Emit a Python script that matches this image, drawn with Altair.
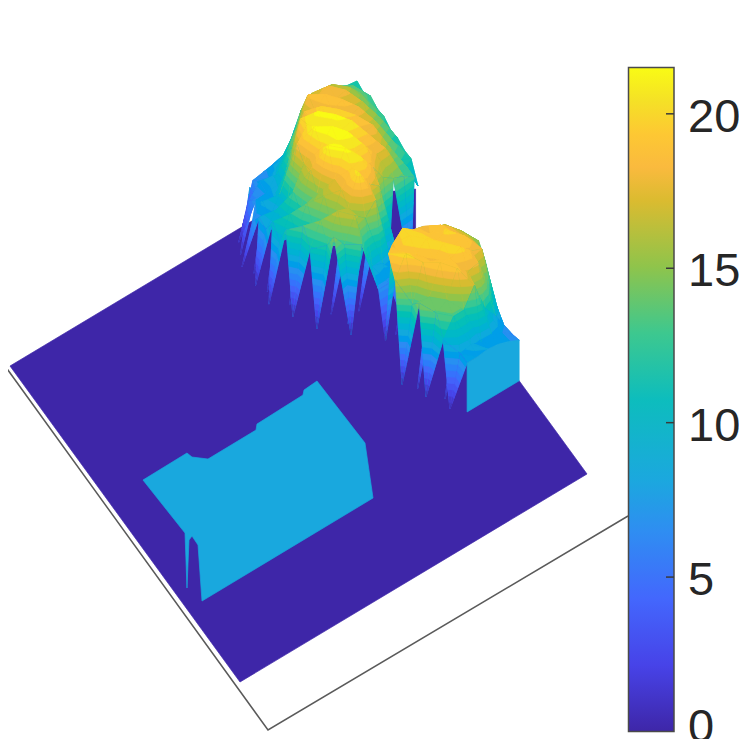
import altair as alt

N = None
# surface heights: rows run along the u edge, columns along the v edge
U_STEP = 0.705 / 24
V_START = 0.61
V_STEP = 0.03
HEIGHTS = [
    [N, N, 0, 5.7, 6, 6.3, 6, 8.7, 12.2, 13, 12.3, 12, 11.2, 11],
    [N, 0, 5, 6.8, 6.5, 8, 9, 13.5, 15, 14, 14.5, 12.8, 12.5, 10.6],
    [N, N, 6.4, 6.5, 8.3, 10.5, 13.5, 17, 16, 16.5, 15, 14.5, 12.8, 11.5],
    [0, 5.5, 7.5, 7, 8.8, 13, 16.8, 16, 17.5, 16, 16.3, 13.5, 13, 11],
    [N, 7.5, 6.5, 9, 12.5, 18, 17, 18, 16.3, 17.2, 15, 15, 12.2, 11.2],
    [0, 7, 9, 8.5, 16.5, 18.5, 19.5, 17.3, 18, 16.2, 16.5, 13.6, 13.2, 10.6],
    [N, 9.5, 8, 12, 15, 19.5, 18.5, 19.5, 17.3, 17.6, 15, 14.8, 11.5, 10.8],
    [0, 8, 11, 10.5, 15.5, 17.8, 20, 18.7, 19, 16.2, 16.6, 13.2, 12.4, 10.4],
    [N, 11, 9.5, 13, 13.5, 19.5, 19, 19.6, 17.2, 17.4, 15.2, 13.8, 11.2, 10.5],
    [N, 0, 12, 10.5, 14.5, 16, 19.5, 18, 18, 16, 15.8, 11.5, 11.4, 8],
    [N, N, 10, 13.2, 12, 15.8, 18, 18.6, 16.4, 14, 13, 12.4, 11.4, N],
    [N, N, 0, 11, 15, 14.5, 18.8, 16.2, 15, 6, N, 0, N, N],
    [N, N, N, 13.5, 11.5, 14.8, 13.5, 15.2, 7, 6.2, N, N, N, N],
    [N, N, N, N, 0, 12, 8, 7.5, 5.6, 6.3, N, N, N, N],
    [N, N, N, N, N, N, 6, 6, 6.5, 5.4, N, N, N, N],
    [N, N, N, N, N, N, 0, N, 0, N, N, N, N, N],
    [N, N, N, N, N, N, 15, 16.5, 15.4, 15, 13.8, 13.5, 12, 10],
    [N, N, N, N, N, 16, 15.4, 16.8, 16.2, 15.2, 15.6, 14.4, 13, 11.2],
    [N, N, N, N, N, 13.5, 16.4, 15.4, 16.8, 15.6, 16.2, 14.8, 13.6, 12],
    [N, N, N, N, N, 0, 10.5, 15.6, 15, 16.6, 15.4, 15.8, 14, 10.4],
    [N, N, N, N, N, N, 12, 12, 16, 15.6, 16.4, 15, 14.4, 7.7],
    [N, N, N, N, N, N, 0, 11, 12, 15.6, 14.2, 14.6, 10.6, 5.5],
    [N, N, N, N, N, N, N, 8.5, 11, 11, 13.6, 9.5, 7.5, 4.6],
    [N, N, N, N, N, N, N, 0, 7, 7.4, 6.8, 7, 6.4, 5.3],
    [N, N, N, N, N, N, N, N, 7, 7, 7.2, 7, 6.5, 5.8],
]
# extra hanging spikes between the main ones: tip u, tip v, height of their top
FRINGE_U = [.059, .118, .176, .235, .294, .353, .44, .588, .647, .34, .31, .33]
FRINGE_V = [.625, .625, .625, .65, .69, .74, .82, .785, .825, .78, .72, .90]
FRINGE_Z = [8, 8, 9, 9, 10, 10, 6, 10, 9, 9, 9, 11]
COLOR_GAIN = 1.1
COLOR_GAIN_FRONT_HILL = 1.22
FLOOR = [(0, 0, 0), (1, 0, 0), (1, 1, 0), (0, 1, 0)]
BACKING = [(.30, .87, 0), (.30, .97, 0), (.30, .97, 10), (.30, .87, 12.5)]
BLOCK_VALUE = 8.2
BLOCK = [
    (.5524, .0171, 8.14), (.7247, .024, 8.14), (.7229, .0309, 0), (.7454, .0218, 8.14),
    (.7405, .0337, 8.14), (.7683, .0326, 8.14), (.7714, .042, 0), (.7703, .5356, 0),
    (.7641, .5166, 8.14), (.5641, .5108, 8.14), (.5668, .4716, 8.14), (.5764, .4623, 8.14),
    (.5796, .3276, 8.14), (.5915, .3169, 8.14), (.592, .1782, 8.14), (.5665, .149, 8.14),
    (.551, .1448, 8.14),
]
WALL = [(.705, .85, 0), (.705, 1, 0), (.705, 1, 5.8), (.705, .97, 6.5), (.705, .94, 7),
        (.705, .91, 7.2), (.705, .88, 7), (.705, .85, 7)]
AXIS_EDGES = [(-.0066, -.01, 0), (1.1427, -.0139, 0), (1.1467, 1.021, 0)]
COLOR_POS = [0, .1, .2, .3, .38, .5, .6, .7, .8, .85, .9, .95, 1]
COLOR_HEX = ["#3E26A8", "#4743E8", "#4367FD", "#2F8DF2", "#1BA8DE", "#0DBDBD", "#3DC88F",
             "#8FC44B", "#DBBB30", "#FABA3E", "#FDC833", "#F5E126", "#F9FB15"]
ZMAX = 21.5
TICKS = [5, 10, 15, 20]
BAND = 0.8


def project(p):
    u, v, z = p
    return [10 + 230 * u + 347 * v - 8, -(366 + 316 * u - 208 * v - 7 * z - 8)]


def clip(poly, level, keep_above):
    out = []
    for a, b in zip(poly, poly[1:] + poly[:1]):
        ina = a[2] >= level if keep_above else a[2] <= level
        inb = b[2] >= level if keep_above else b[2] <= level
        if ina:
            out.append(a)
        if ina != inb:
            t = (level - a[2]) / (b[2] - a[2])
            out.append((a[0] + t * (b[0] - a[0]), a[1] + t * (b[1] - a[1]), level))
    return out


def feature(points, value):
    ring = [project(p) for p in points]
    ring.append(ring[0])
    return {"type": "Feature", "properties": {"c": value},
            "geometry": {"type": "Polygon", "coordinates": [ring]}}


def vertex(i, j):
    z = HEIGHTS[i][j]
    if z is None:
        return None
    return (i * U_STEP, V_START + j * V_STEP, z)


def bands(tri):
    lo = min(p[2] for p in tri)
    hi = max(p[2] for p in tri)
    gain = COLOR_GAIN_FRONT_HILL if .46 <= min(p[0] for p in tri) < .64 else COLOR_GAIN
    out = [feature(tri, min((lo + hi) / 2 * gain, ZMAX))]
    if hi - lo < 1e-6:
        return out
    level = int(lo / BAND) * BAND
    while level < hi:
        piece = clip(clip(list(tri), level, True), level + BAND, False)
        if len(piece) >= 3:
            out.append(feature(piece, min((level + BAND / 2) * gain, ZMAX)))
        level += BAND
    return out


triangles = []
for i in range(len(HEIGHTS) - 1):
    for j in range(len(HEIGHTS[0]) - 1):
        a, b, c, d = vertex(i, j), vertex(i + 1, j), vertex(i + 1, j + 1), vertex(i, j + 1)
        present = [p for p in (a, b, c, d) if p is not None]
        if len(present) == 4:
            triangles += [[a, b, c], [a, c, d]]
        elif len(present) == 3:
            triangles.append(present)

triangles.sort(key=lambda t: sum(316 * p[0] - 208 * p[1] for p in t))

features = [feature(FLOOR, 0), feature(BACKING, 0), feature(BLOCK, BLOCK_VALUE)]
for fu, fv, fz in zip(FRINGE_U, FRINGE_V, FRINGE_Z):
    features += bands([(fu, fv, 0), (fu - .012, fv + .035, fz), (fu + .012, fv + .035, fz)])
for tri in triangles:
    features += bands(tri)
features.append(feature(WALL, BLOCK_VALUE))

stops = [p * ZMAX for p in COLOR_POS]
scale = alt.Scale(domain=stops, range=COLOR_HEX)
PROJ = dict(type="identity", reflectY=True, scale=1, translate=[0, 0])

surface = (
    alt.Chart(alt.Data(values=features))
    .mark_geoshape(strokeWidth=0.7)
    .encode(
        color=alt.Color("properties.c:Q", scale=scale, legend=None),
        stroke=alt.Stroke("properties.c:Q", scale=scale, legend=None),
    )
    .project(**PROJ)
)
edges = (
    alt.Chart(alt.Data(values=[{"type": "Feature", "properties": {},
                                "geometry": {"type": "LineString",
                                             "coordinates": [project(p) for p in AXIS_EDGES]}}]))
    .mark_geoshape(filled=False, stroke="#5a5a5a", strokeWidth=1.5, clip=True)
    .project(**PROJ)
)

y_scale = alt.Scale(domain=[0, ZMAX], range=[723.5, 59.5], nice=False, zero=False)
gradient = alt.Gradient(
    gradient="linear", x1=0, y1=1, x2=0, y2=0,
    stops=[alt.GradientStop(color=c, offset=p) for c, p in zip(COLOR_HEX, COLOR_POS)],
)
bar = (
    alt.Chart(alt.Data(values=[{"a": 0, "b": ZMAX}]))
    .mark_rect(color=gradient, stroke="#4a4a4a", strokeWidth=1.5)
    .encode(y=alt.Y("a:Q", scale=y_scale, axis=None), y2="b:Q",
            x=alt.value(620.5), x2=alt.value(666))
)
tick_marks = (
    alt.Chart(alt.Data(values=[{"t": t} for t in TICKS]))
    .mark_rule(color="#3a3a3a", strokeWidth=1.5)
    .encode(y=alt.Y("t:Q", scale=y_scale, axis=None), x=alt.value(658), x2=alt.value(666))
)
labels = (
    alt.Chart(alt.Data(values=[{"t": t, "s": str(t)} for t in TICKS]))
    .mark_text(fontSize=47, font="Liberation Sans", color="#262626", align="left",
               baseline="middle", dy=4)
    .encode(y=alt.Y("t:Q", scale=y_scale, axis=None), x=alt.value(680), text="s:N")
)
zero_label = (
    alt.Chart(alt.Data(values=[{"t": 0, "s": "0"}]))
    .mark_text(fontSize=47, font="Liberation Sans", color="#262626", align="left",
               baseline="middle", dy=-4)
    .encode(y=alt.Y("t:Q", scale=y_scale, axis=None), x=alt.value(680), text="s:N")
)

chart = (
    alt.layer(edges, surface, bar, tick_marks, labels, zero_label)
    .resolve_scale(color="independent")
    .properties(width=731, height=731, padding=0,
                autosize=alt.AutoSizeParams(type="none"))
    .configure_view(stroke=None)
)
chart.save("out.html", embed_options={"renderer": "svg", "actions": False})
